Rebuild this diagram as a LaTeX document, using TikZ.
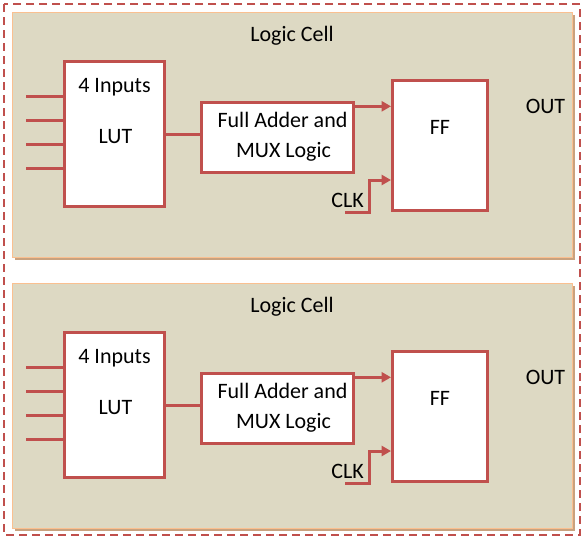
\documentclass[tikz,border=0pt]{standalone}
\usepackage{fontspec}
\setmainfont{Carlito}
\usepackage{tikz}
\usetikzlibrary{arrows.meta, positioning, shadows}
\usepackage{xcolor}
\definecolor{cellfill}{HTML}{DDD9C3}
\definecolor{cellline}{HTML}{FAC090}
\definecolor{cellshade}{HTML}{C9A27E}
\definecolor{wire}{HTML}{C0504D}

\begin{document}
\begin{tikzpicture}[x=0.75pt,y=-0.75pt,font=\fontsize{16.5}{20}\selectfont]
    \tikzstyle{cell}=[shape=rectangle,draw=cellline,line width=1.2pt,fill=cellfill,minimum width=420pt,minimum height=183.5pt,drop shadow={shadow xshift=1.5pt,shadow yshift=-2pt,fill=cellshade,opacity=1}]
    \tikzstyle{block}=[shape=rectangle,draw=wire,line width=2.5pt,fill=white,inner sep=0pt]
    \tikzstyle{txt}=[anchor=base,inner sep=0pt]
    \tikzstyle{wireline}=[draw=wire,line width=2.25pt]
    \tikzstyle{tip}=[-{Triangle[length=7pt,width=7.5pt]}]

    \useasboundingbox (0,0) rectangle (585,540);
    \draw[wire,line width=1.5pt,dash pattern=on 6pt off 3.75pt] (4,4) rectangle (580,535);

    % one logic cell per pass
    \foreach \c/\dy in {1/0,2/271}{
    \node[cell] (cell\c) at (292.5,135+\dy) {};
    \node[block, minimum width=75pt, minimum height=108.5pt] (LUT\c) at (114.5,134+\dy) {};
    \node[block, minimum width=113.8pt, minimum height=52.3pt] (adder\c) at (277.5,137.5+\dy) {};
    \node[block, minimum width=71pt, minimum height=97.3pt] (FF\c) at (440,145.5+\dy) {};

    \node[txt] (title\c) at (292,41+\dy) {Logic Cell};
    \node[txt] (inputs\c) at (114.5,92+\dy) {4 Inputs};
    \node[txt] (lutlbl\c) at (115.5,143+\dy) {LUT};
    \node[txt] (addlbl\c) at (282.5,127+\dy) {Full Adder and};
    \node[txt] (muxlbl\c) at (283.5,157+\dy) {MUX Logic};
    \node[txt] (fflbl\c) at (440,134+\dy) {FF};
    \node[txt] (out\c) at (545.5,113+\dy) {OUT};
    \node[txt] (clklbl\c) at (347.5,207+\dy) {CLK};

    \foreach \i/\y in {1/96,2/120,3/144,4/168}
        \coordinate (in\c\i) at (26,\y+\dy);
    \coordinate (fa\c) at ([yshift=-4pt]adder\c.north east);
    \coordinate (clk\c) at (345,212+\dy);
    \coordinate (ck\c) at (369,180+\dy);

    \path[wireline]
    (in\c1) edge (in\c1 -| LUT\c.west)
    (in\c2) edge (in\c2 -| LUT\c.west)
    (in\c3) edge (in\c3 -| LUT\c.west)
    (in\c4) edge (in\c4 -| LUT\c.west)
    (LUT\c.east) edge (LUT\c.east -| adder\c.west)
    ;
    \draw[wireline, tip] (fa\c) -- (fa\c -| FF\c.west);
    \draw[wireline, tip] (clk\c) -| (ck\c) -- (ck\c -| FF\c.west);
    }
\end{tikzpicture}
\end{document}
